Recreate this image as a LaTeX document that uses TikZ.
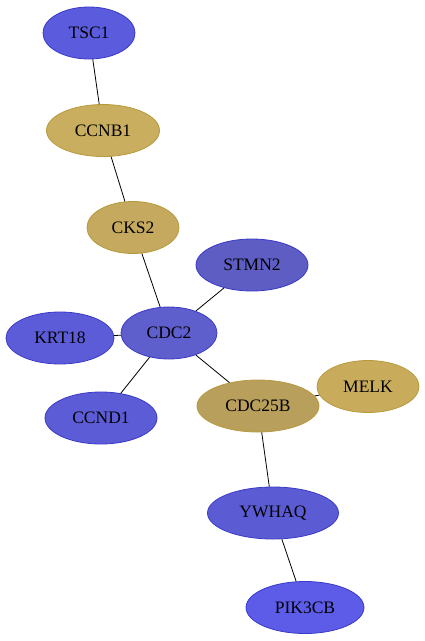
\documentclass[tikz,border=0pt]{standalone}
\usepackage{fontspec}
\setmainfont{Liberation Serif}
\usetikzlibrary{shapes.geometric}
\definecolor{bdraw}{HTML}{3A3AC8}
\definecolor{gdraw}{HTML}{B89A3C}
\definecolor{ctsc}{HTML}{5B5BDD}
\definecolor{cccnb}{HTML}{C8AE5E}
\definecolor{ccks}{HTML}{C4A95E}
\definecolor{cstmn}{HTML}{5D5DC4}
\definecolor{ckrt}{HTML}{5C5CD8}
\definecolor{ccdc}{HTML}{5E5ECC}
\definecolor{cccnd}{HTML}{5C5CD6}
\definecolor{ccdcb}{HTML}{B89F5C}
\definecolor{cmelk}{HTML}{C8AC5C}
\definecolor{cywh}{HTML}{5B5BD4}
\definecolor{cpik}{HTML}{5C5CE9}
\tikzset{
  gene/.style={ellipse, minimum height=52pt, inner sep=0pt, line width=0.8pt, font=\fontsize{17.5}{20}\selectfont},
  bnode/.style={gene, fill=#1, draw=bdraw},
  gnode/.style={gene, fill=#1, draw=gdraw},
  link/.style={draw=black, line width=0.8pt}
}
\begin{document}
\begin{tikzpicture}[x=1pt,y=-1pt]
\useasboundingbox (0,0) rectangle (425,641);
\node[bnode=ctsc, minimum width=92pt] (tsc1) at (89,33) {TSC1};
\node[gnode=cccnb, minimum width=113pt] (ccnb1) at (103,130.5) {CCNB1};
\node[gnode=ccks, minimum width=92pt] (cks2) at (133,227.5) {CKS2};
\node[bnode=cstmn, minimum width=112pt] (stmn2) at (252,265) {STMN2};
\node[bnode=ckrt, minimum width=108pt] (krt18) at (60,338) {KRT18};
\node[bnode=ccdc, minimum width=96pt] (cdc2) at (169,333) {CDC2};
\node[bnode=cccnd, minimum width=112pt] (ccnd1) at (101,418) {CCND1};
\node[gnode=ccdcb, minimum width=122pt] (cdc25b) at (258,406) {CDC25B};
\node[gnode=cmelk, minimum width=102pt] (melk) at (368,386.5) {MELK};
\node[bnode=cywh, minimum width=131pt] (ywhaq) at (273,513) {YWHAQ};
\node[bnode=cpik, minimum width=118pt] (pik3cb) at (305,607.5) {PIK3CB};
\draw[link] (tsc1) -- (ccnb1);
\draw[link] (ccnb1) -- (cks2);
\draw[link] (cks2) -- (cdc2);
\draw[link] (stmn2) -- (cdc2);
\draw[link] (krt18) -- (cdc2);
\draw[link] (cdc2) -- (ccnd1);
\draw[link] (cdc2) -- (cdc25b);
\draw[link] (cdc25b) -- (melk);
\draw[link] (cdc25b) -- (ywhaq);
\draw[link] (ywhaq) -- (pik3cb);
\end{tikzpicture}
\end{document}
